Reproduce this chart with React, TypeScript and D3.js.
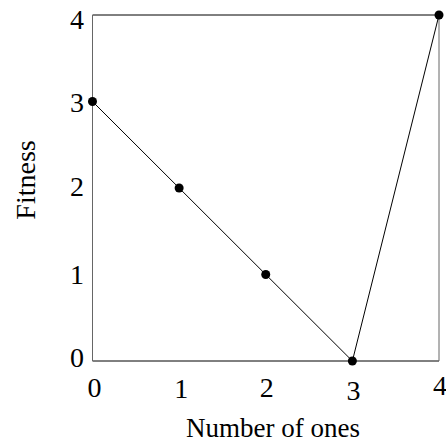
import React from "react";
import * as d3 from "d3";

const xValues = [0, 1, 2, 3, 4];
const yValues = [3, 2, 1, 0, 4];
const xTicks = [0, 1, 2, 3, 4];
const yTicks = [0, 1, 2, 3, 4];

// small hand-placement nudges of the tick labels seen in the reference (layout only)
const xLabelBaselines = [397, 398, 397, 400, 395];
const xLabelDx = [2, 2, 1, 1, 1];
const yLabelBaselines = [367, 284, 196, 112, 29];

export default function App() {
  const W = 446, H = 445;
  const left = 92.5, right = 439, top = 15, bottom = 361;
  const x = d3.scaleLinear().domain([0, 4]).range([left, right]);
  const y = d3.scaleLinear().domain([0, 4]).range([bottom, top]);
  const pts = xValues.map((v, i) => [x(v), y(yValues[i])] as [number, number]);
  const line = d3.line()(pts) || "";
  const font = "'Liberation Serif', 'Times New Roman', serif";
  return (
    <svg width={W} height={H} style={{ position: "absolute", left: 0, top: 0, background: "#fff" }}>
      <line x1={left} y1={top} x2={right} y2={top} stroke="#000" strokeWidth={1} />
      <line x1={left} y1={bottom} x2={right} y2={bottom} stroke="#000" strokeWidth={1} />
      <line x1={left} y1={top} x2={left} y2={bottom} stroke="#666" strokeWidth={1} />
      <line x1={right} y1={top} x2={right} y2={bottom} stroke="#666" strokeWidth={1} />
      <path d={line} fill="none" stroke="#000" strokeWidth={1} />
      {pts.map((p, i) => (
        <circle key={i} cx={p[0]} cy={p[1]} r={4.5} fill="#000" />
      ))}
      {yTicks.map((t, i) => (
        <text key={"y" + t} x={84} y={yLabelBaselines[i]} textAnchor="end" fontFamily={font} fontSize={28}>
          {t}
        </text>
      ))}
      {xTicks.map((t, i) => (
        <text key={"x" + t} x={x(t) + xLabelDx[i]} y={xLabelBaselines[i]} textAnchor="middle" fontFamily={font} fontSize={28}>
          {t}
        </text>
      ))}
      <text x={273} y={437} textAnchor="middle" fontFamily={font} fontSize={27}>
        Number of ones
      </text>
      <text transform={`translate(35,180) rotate(-90)`} textAnchor="middle" fontFamily={font} fontSize={28}>
        Fitness
      </text>
    </svg>
  );
}
